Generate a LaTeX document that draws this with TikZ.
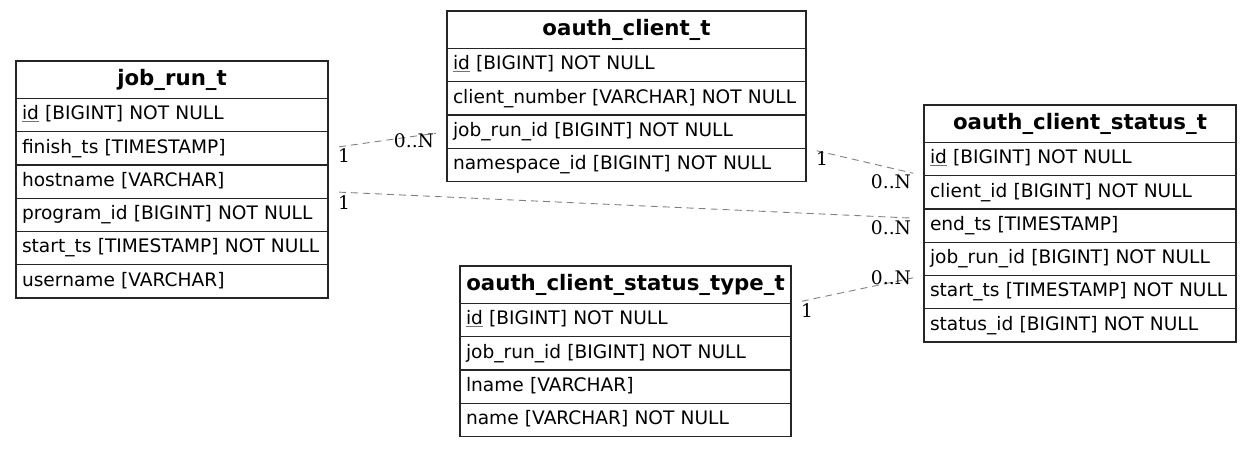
\documentclass[tikz,border=0pt]{standalone}
\usepackage{fontspec}
\setmainfont{DejaVu Sans}
\newfontfamily\lblfont{DejaVu Serif}
\usetikzlibrary{
    positioning,
}
\newcommand\pkey[1]{{\color{black!55}\underline{\color{black}#1}}}

\begin{document}
\begin{tikzpicture}[
        x=1pt, y=1pt,
        tblhead/.style={rectangle, draw=black!85, line width=1.2pt, fill=white, outer sep=0pt, inner xsep=3pt, minimum height=37.5pt, text width=#1, align=center, text height=15pt, text depth=4.5pt, font=\fontsize{21.3}{25}\selectfont\bfseries},
        field/.style={rectangle, draw=black!85, line width=1.2pt, fill=white, outer sep=0pt, inner xsep=3pt, minimum height=33.25pt, text width=#1, align=left, text height=13.5pt, text depth=4pt, font=\fontsize{18.6}{22}\selectfont, execute at begin node=\hspace*{3pt}},
        rel/.style={draw=black!50, line width=0.9pt, dash pattern=on 7pt off 5pt, shorten <=11pt, shorten >=11pt},
        tlab/.style={at start, xshift=16pt, yshift=-#1, font=\lblfont\fontsize{18.7}{22}\selectfont},
        tlab/.default=8pt,
        hlab/.style={at end, xshift=-33pt, yshift=-#1, font=\lblfont\fontsize{18.7}{22}\selectfont},
        hlab/.default=8pt,
        ]
        \useasboundingbox (0,0) rectangle (1252,-448);
        % job_run_t
        \node[tblhead=306pt, anchor=north west] (JR0) at (16,-61) {job\_run\_t};
        \node[field=306pt] (JR1) [below=0pt of JR0] {\pkey{id} [BIGINT] NOT NULL};
        \node[field=306pt] (JR2) [below=0pt of JR1] {finish\_ts [TIMESTAMP]};
        \node[field=306pt] (JR3) [below=0pt of JR2] {hostname [VARCHAR]};
        \node[field=306pt] (JR4) [below=0pt of JR3] {program\_id [BIGINT] NOT NULL};
        \node[field=306pt] (JR5) [below=0pt of JR4] {start\_ts [TIMESTAMP] NOT NULL};
        \node[field=306pt] (JR6) [below=0pt of JR5] {username [VARCHAR]};
        % oauth_client_t
        \node[tblhead=353pt, anchor=north west] (OC0) at (447,-11) {oauth\_client\_t};
        \node[field=353pt] (OC1) [below=0pt of OC0] {\pkey{id} [BIGINT] NOT NULL};
        \node[field=353pt] (OC2) [below=0pt of OC1] {client\_number [VARCHAR] NOT NULL};
        \node[field=353pt] (OC3) [below=0pt of OC2] {job\_run\_id [BIGINT] NOT NULL};
        \node[field=353pt] (OC4) [below=0pt of OC3] {namespace\_id [BIGINT] NOT NULL};
        % oauth_client_status_t
        \node[tblhead=306pt, anchor=north west] (OCS0) at (924,-105) {oauth\_client\_status\_t};
        \node[field=306pt] (OCS1) [below=0pt of OCS0] {\pkey{id} [BIGINT] NOT NULL};
        \node[field=306pt] (OCS2) [below=0pt of OCS1] {client\_id [BIGINT] NOT NULL};
        \node[field=306pt] (OCS3) [below=0pt of OCS2] {end\_ts [TIMESTAMP]};
        \node[field=306pt] (OCS4) [below=0pt of OCS3] {job\_run\_id [BIGINT] NOT NULL};
        \node[field=306pt] (OCS5) [below=0pt of OCS4] {start\_ts [TIMESTAMP] NOT NULL};
        \node[field=306pt] (OCS6) [below=0pt of OCS5] {status\_id [BIGINT] NOT NULL};
        % oauth_client_status_type_t
        \node[tblhead=325pt, anchor=north west] (ST0) at (460,-266) {oauth\_client\_status\_type\_t};
        \node[field=325pt] (ST1) [below=0pt of ST0] {\pkey{id} [BIGINT] NOT NULL};
        \node[field=325pt] (ST2) [below=0pt of ST1] {job\_run\_id [BIGINT] NOT NULL};
        \node[field=325pt] (ST3) [below=0pt of ST2] {lname [VARCHAR]};
        \node[field=325pt] (ST4) [below=0pt of ST3] {name [VARCHAR] NOT NULL};
        % relations
        \draw[rel] (JR2.east) -- (OC3.west) node[tlab=7pt] {1} node[hlab=9pt] {0..N};
        \draw[rel] ([yshift=-10pt]JR3.east) -- ([yshift=7pt]OCS3.west) node[tlab=10.5pt] {1} node[hlab=9.5pt] {0..N};
        \draw[rel] (OC3.south east) -- (OCS1.south west) node[tlab=10pt] {1} node[hlab=6pt] {0..N};
        \draw[rel] (ST0.south east) -- (OCS4.south west) node[tlab=7pt] {1} node[hlab=2pt] {0..N};
    \end{tikzpicture}
\end{document}
